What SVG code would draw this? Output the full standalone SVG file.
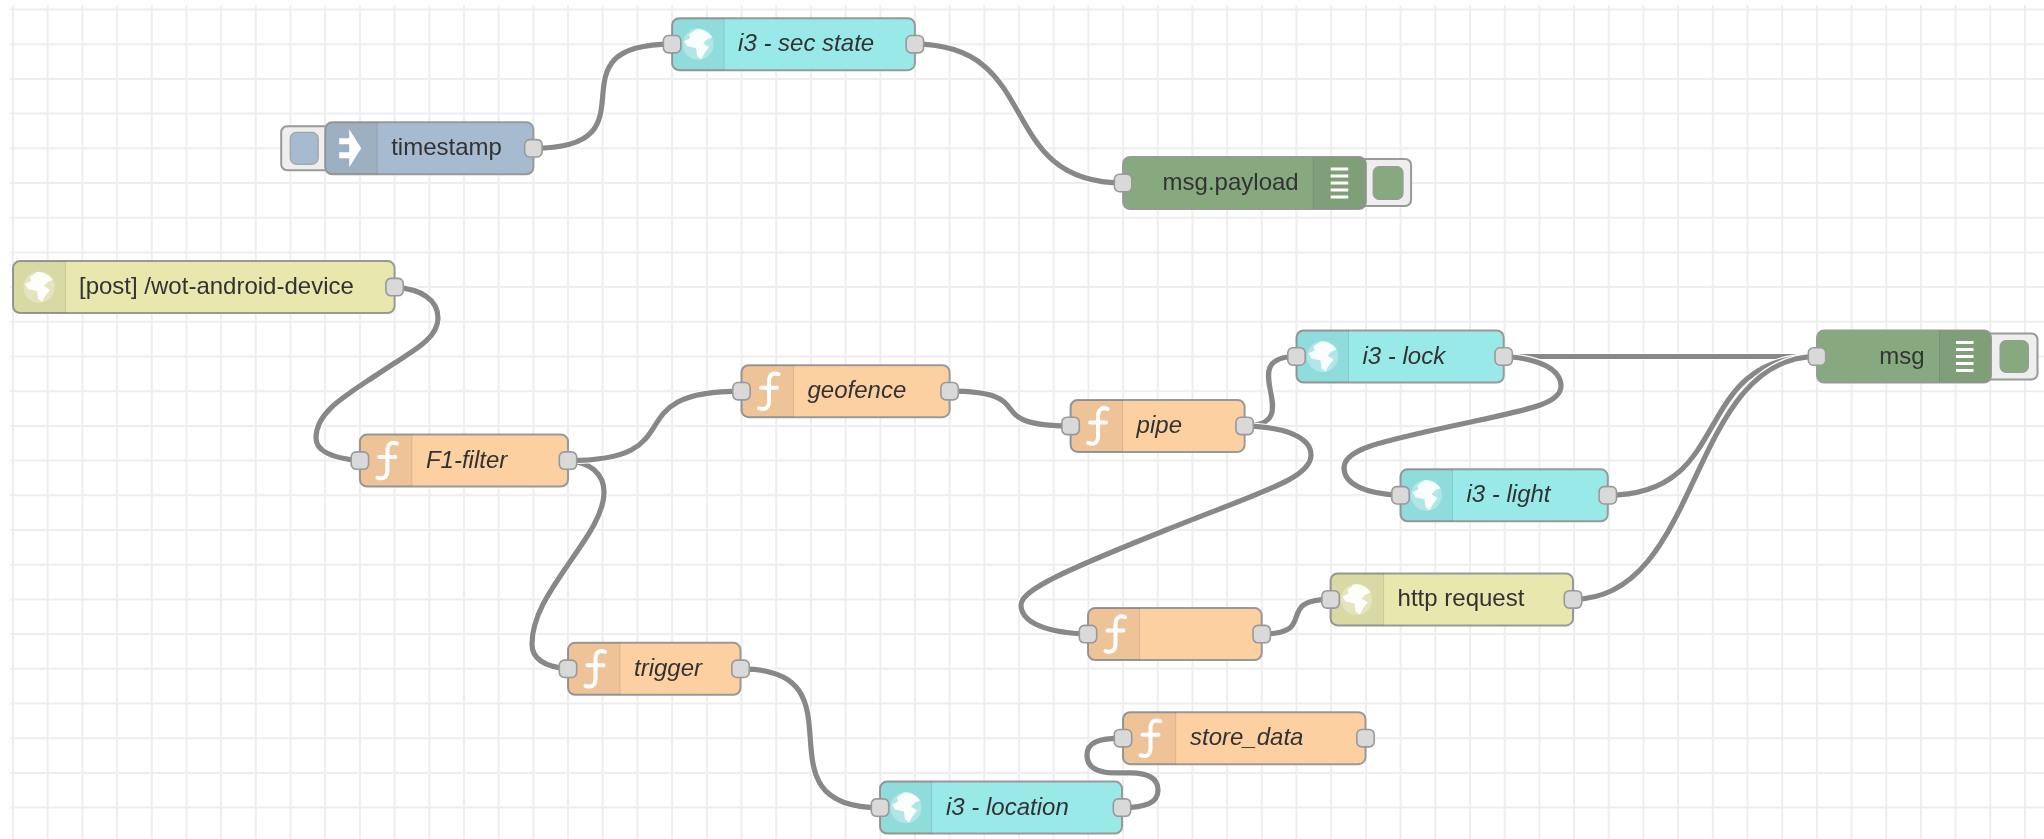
<svg xmlns="http://www.w3.org/2000/svg" width="2044" height="839" viewBox="0 0 2044 839">
<style>
text{font-family:"Liberation Sans",Arial,Helvetica,sans-serif;font-size:24px;fill:#333}
.i{font-style:italic}
.r{text-anchor:end}
.grid{fill:none;stroke:#eee;stroke-width:2}
.body{stroke:#999;stroke-width:2}
.fn{fill:#fdd0a2}.cy{fill:#9ae9e9}.ye{fill:#e7e7ae}.gr{fill:#87a980}.bl{fill:#a6bbcf}
.ico{fill:#000;fill-opacity:.06}
.div{stroke:#000;stroke-opacity:.1;stroke-width:1}
.port{fill:#d9d9d9;stroke:#999;stroke-width:1.6}
.btn{fill:#eee;stroke:#999;stroke-width:2}
.wo{fill:none;stroke:#fff;stroke-width:7.500}
.wl{fill:none;stroke:#888;stroke-width:5.200}
</style>
<defs>
<filter id="soft" filterUnits="userSpaceOnUse" x="0" y="0" width="2044" height="839"><feGaussianBlur stdDeviation="0.55"/></filter>
<rect id="p" class="port" x="-8.700" y="-8.700" width="17.400" height="17.400" rx="5"/>
<path id="fIcon" d="M37 -17C32 -19 28 -17 27.500 -11V11C27 17 23 19 17.500 17M19.500 -3.500H35.500" fill="none" stroke="#fff" stroke-width="4" stroke-linecap="round"/>
<g id="globe"><circle cx="26" cy="0" r="15.600" fill="#fff" fill-opacity=".3"/><path d="M24 -15C30 -16 37 -12 40 -7L35 -5L31 -1L37 3L33 8L29 15L25 12L24 4L15 2L12 -3L18 -6L17 -10Z" fill="#fff" fill-opacity=".92"/></g>
<path id="injIcon" d="M14 -10H24V-19L36 0L24 19V10H14V4H24V-4H14Z" fill="#fff"/>
<path id="dbgLines" d="M0 -14H17.500M0 -7H17.500M0 0H17.500M0 7H17.500M0 14H17.500" stroke="#fff" stroke-width="3" fill="none"/>
<path id="w1" d="M533.400 148.300C663.400 148.300 542 44.200 672 44.200"/>
<path id="w2" d="M915 44.200C1045 44.200 993 183 1123 183"/>
<path id="w3" d="M394.600 287.100C422 289 438 300 438 318C438 340 410 352 378 374C345 396 316 412 316 438C316 450 330 458 360 460.600"/>
<path id="w4" d="M568 460.600C590 462 604 474 604 492C604 515 585 540 568 564.700C551 589.400 532 616 532 644C532 660 546 667 568 668.800"/>
<path id="w5" d="M568 460.600C698 460.600 611.500 391.200 741.500 391.200"/>
<path id="w6" d="M949.600 391.200C1044 391.200 976 425.900 1070.600 425.900"/>
<path id="w7" d="M1244.600 425.900C1310 425.900 1231 356.500 1296.500 356.500"/>
<path id="w8" d="M1244.600 425.900C1285 427 1311 437 1311 455C1311 478 1266 490 1166 530C1066 570 1021 590 1021 605C1021 623 1048 633 1088 634.100"/>
<path id="w9" d="M1503.700 356.500H1817"/>
<path id="w10" d="M1503.700 356.500C1540 358 1561 370 1561 386C1561 405 1525 410 1452 426C1380 442 1344 449 1344 468C1344 484 1365 494 1400.400 495.300"/>
<path id="w11" d="M1607.800 495.300C1737.800 495.300 1687 356.500 1817 356.500"/>
<path id="w12" d="M1261.700 634.100C1320 634.100 1272.700 599.400 1330.600 599.400"/>
<path id="w13" d="M1573 599.400C1703 599.400 1687 356.500 1817 356.500"/>
<path id="w14" d="M740.500 668.800C870.500 668.800 750 807.600 880 807.600"/>
<path id="w15" d="M1122 807.600C1146 807.600 1158 803 1158 790C1158 778 1148 772.900 1130 772.900H1115C1097 772.900 1087 767 1087 755C1087 743 1097 738.200 1123 738.200"/>
</defs>
<rect width="2044" height="839" fill="#fff"/>
<g filter="url(#soft)">
<path class="grid" d="M13 5V839M47.700 5V839M82.400 5V839M117.100 5V839M151.800 5V839M186.500 5V839M221.100 5V839M255.800 5V839M290.500 5V839M325.200 5V839M359.900 5V839M394.600 5V839M429.300 5V839M464 5V839M498.700 5V839M533.400 5V839M568 5V839M602.700 5V839M637.400 5V839M672.100 5V839M706.800 5V839M741.500 5V839M776.200 5V839M810.900 5V839M845.600 5V839M880.300 5V839M914.900 5V839M949.600 5V839M984.300 5V839M1019 5V839M1053.700 5V839M1088.400 5V839M1123.100 5V839M1157.800 5V839M1192.500 5V839M1227.200 5V839M1261.800 5V839M1296.500 5V839M1331.200 5V839M1365.900 5V839M1400.600 5V839M1435.300 5V839M1470 5V839M1504.700 5V839M1539.400 5V839M1574.100 5V839M1608.700 5V839M1643.400 5V839M1678.100 5V839M1712.800 5V839M1747.500 5V839M1782.200 5V839M1816.900 5V839M1851.600 5V839M1886.300 5V839M1921 5V839M1955.600 5V839M1990.300 5V839M2025 5V839M10 9.500H2044M10 44.200H2044M10 78.900H2044M10 113.600H2044M10 148.300H2044M10 183H2044M10 217.700H2044M10 252.400H2044M10 287.100H2044M10 321.800H2044M10 356.500H2044M10 391.200H2044M10 425.900H2044M10 460.600H2044M10 495.300H2044M10 530H2044M10 564.700H2044M10 599.400H2044M10 634.100H2044M10 668.800H2044M10 703.500H2044M10 738.200H2044M10 772.900H2044M10 807.600H2044"/>
<g id="connectors">
<use href="#w1" class="wo"/><use href="#w1" class="wl"/>
<use href="#w2" class="wo"/><use href="#w2" class="wl"/>
<use href="#w3" class="wo"/><use href="#w3" class="wl"/>
<use href="#w4" class="wo"/><use href="#w4" class="wl"/>
<use href="#w5" class="wo"/><use href="#w5" class="wl"/>
<use href="#w6" class="wo"/><use href="#w6" class="wl"/>
<use href="#w7" class="wo"/><use href="#w7" class="wl"/>
<use href="#w8" class="wo"/><use href="#w8" class="wl"/>
<use href="#w9" class="wo"/><use href="#w9" class="wl"/>
<use href="#w10" class="wo"/><use href="#w10" class="wl"/>
<use href="#w11" class="wo"/><use href="#w11" class="wl"/>
<use href="#w12" class="wo"/><use href="#w12" class="wl"/>
<use href="#w13" class="wo"/><use href="#w13" class="wl"/>
<use href="#w14" class="wo"/><use href="#w14" class="wl"/>
<use href="#w15" class="wo"/><use href="#w15" class="wl"/>
</g>
<g id="timestamp" transform="translate(325.200 148.300)">
<path class="btn" d="M6 -22H-38a6 6 0 0 0 -6 6V16a6 6 0 0 0 6 6H6Z"/>
<rect class="bl" x="-35" y="-16" width="28" height="32" rx="6" stroke="#999" stroke-width="1"/>
<rect class="body bl" width="208.200" height="52" y="-26" rx="7"/>
<path class="ico" d="M7 -26A7 7 0 0 0 0 -19V19A7 7 0 0 0 7 26H52V-26Z"/>
<path class="div" d="M52 -26V26"/>
<use href="#injIcon"/>
<text x="66" y="7">timestamp</text>
<use href="#p" x="208.200"/>
</g>
<g id="sec-state" transform="translate(672.100 44.200)">
<rect class="body cy" width="242.800" height="52" y="-26" rx="7"/>
<path class="ico" d="M7 -26A7 7 0 0 0 0 -19V19A7 7 0 0 0 7 26H52V-26Z"/>
<path class="div" d="M52 -26V26"/>
<use href="#globe"/>
<text class="i" x="66" y="7">i3 - sec state</text>
<use href="#p"/><use href="#p" x="242.800"/>
</g>
<g id="msg-payload" transform="translate(1123.100 183)">
<path class="btn" d="M236 -24H282a6 6 0 0 1 6 6V17a6 6 0 0 1 -6 6H236Z"/>
<rect class="gr" x="250" y="-16.500" width="30" height="33" rx="6" stroke="#999" stroke-width="1"/>
<rect class="body gr" width="242.800" height="52" y="-26" rx="7"/>
<path class="ico" d="M190 -26H235.800A7 7 0 0 1 242.800 -19V19A7 7 0 0 1 235.800 26H190Z"/>
<path class="div" d="M190 -26V26"/>
<use href="#dbgLines" x="207.600"/>
<text class="r" x="175.600" y="7">msg.payload</text>
<use href="#p"/>
</g>
<g id="post-device" transform="translate(13 287.100)">
<rect class="body ye" width="381.600" height="52" y="-26" rx="7"/>
<path class="ico" d="M7 -26A7 7 0 0 0 0 -19V19A7 7 0 0 0 7 26H52.600V-26Z"/>
<path class="div" d="M52.600 -26V26"/>
<use href="#globe"/>
<text x="66" y="7">[post] /wot-android-device</text>
<use href="#p" x="381.600"/>
</g>
<g id="f1-filter" transform="translate(359.900 460.600)">
<rect class="body fn" width="208.100" height="52" y="-26" rx="7"/>
<path class="ico" d="M7 -26A7 7 0 0 0 0 -19V19A7 7 0 0 0 7 26H52V-26Z"/>
<path class="div" d="M52 -26V26"/>
<use href="#fIcon"/>
<text class="i" x="66" y="7">F1-filter</text>
<use href="#p"/><use href="#p" x="208.100"/>
</g>
<g id="geofence" transform="translate(741.500 391.200)">
<rect class="body fn" width="208.100" height="52" y="-26" rx="7"/>
<path class="ico" d="M7 -26A7 7 0 0 0 0 -19V19A7 7 0 0 0 7 26H52V-26Z"/>
<path class="div" d="M52 -26V26"/>
<use href="#fIcon"/>
<text class="i" x="66" y="7">geofence</text>
<use href="#p"/><use href="#p" x="208.100"/>
</g>
<g id="pipe" transform="translate(1070.600 425.900)">
<rect class="body fn" width="174" height="52" y="-26" rx="7"/>
<path class="ico" d="M7 -26A7 7 0 0 0 0 -19V19A7 7 0 0 0 7 26H52V-26Z"/>
<path class="div" d="M52 -26V26"/>
<use href="#fIcon"/>
<text class="i" x="66" y="7">pipe</text>
<use href="#p"/><use href="#p" x="174"/>
</g>
<g id="i3-lock" transform="translate(1296.500 356.500)">
<rect class="body cy" width="207.200" height="52" y="-26" rx="7"/>
<path class="ico" d="M7 -26A7 7 0 0 0 0 -19V19A7 7 0 0 0 7 26H52V-26Z"/>
<path class="div" d="M52 -26V26"/>
<use href="#globe"/>
<text class="i" x="66" y="7">i3 - lock</text>
<use href="#p"/><use href="#p" x="207.200"/>
</g>
<g id="i3-light" transform="translate(1400.500 495.300)">
<rect class="body cy" width="207.300" height="52" y="-26" rx="7"/>
<path class="ico" d="M7 -26A7 7 0 0 0 0 -19V19A7 7 0 0 0 7 26H52V-26Z"/>
<path class="div" d="M52 -26V26"/>
<use href="#globe"/>
<text class="i" x="66" y="7">i3 - light</text>
<use href="#p"/><use href="#p" x="207.300"/>
</g>
<g id="msg" transform="translate(1817 356.500)">
<path class="btn" d="M168 -23H214.500a6 6 0 0 1 6 6V17a6 6 0 0 1 -6 6H168Z"/>
<rect class="gr" x="183" y="-16" width="28.500" height="32" rx="6" stroke="#999" stroke-width="1"/>
<rect class="body gr" width="174" height="52" y="-26" rx="7"/>
<path class="ico" d="M122.500 -26H167A7 7 0 0 1 174 -19V19A7 7 0 0 1 167 26H122.500Z"/>
<path class="div" d="M122.500 -26V26"/>
<use href="#dbgLines" x="139"/>
<text class="r" x="107.500" y="7">msg</text>
<use href="#p"/>
</g>
<g id="func-blank" transform="translate(1088 634.100)">
<rect class="body fn" width="173.700" height="52" y="-26" rx="7"/>
<path class="ico" d="M7 -26A7 7 0 0 0 0 -19V19A7 7 0 0 0 7 26H51.500V-26Z"/>
<path class="div" d="M51.500 -26V26"/>
<use href="#fIcon"/>
<use href="#p"/><use href="#p" x="173.700"/>
</g>
<g id="http-request" transform="translate(1330.600 599.400)">
<rect class="body ye" width="242.400" height="52" y="-26" rx="7"/>
<path class="ico" d="M7 -26A7 7 0 0 0 0 -19V19A7 7 0 0 0 7 26H53V-26Z"/>
<path class="div" d="M53 -26V26"/>
<use href="#globe"/>
<text x="67" y="7">http request</text>
<use href="#p"/><use href="#p" x="242.400"/>
</g>
<g id="trigger" transform="translate(568 668.800)">
<rect class="body fn" width="172.500" height="52" y="-26" rx="7"/>
<path class="ico" d="M7 -26A7 7 0 0 0 0 -19V19A7 7 0 0 0 7 26H52V-26Z"/>
<path class="div" d="M52 -26V26"/>
<use href="#fIcon"/>
<text class="i" x="66" y="7">trigger</text>
<use href="#p"/><use href="#p" x="172.500"/>
</g>
<g id="store-data" transform="translate(1123 738.200)">
<rect class="body fn" width="242.500" height="52" y="-26" rx="7"/>
<path class="ico" d="M7 -26A7 7 0 0 0 0 -19V19A7 7 0 0 0 7 26H52.700V-26Z"/>
<path class="div" d="M52.700 -26V26"/>
<use href="#fIcon"/>
<text class="i" x="67" y="7">store_data</text>
<use href="#p"/><use href="#p" x="242.500"/>
</g>
<g id="i3-location" transform="translate(880 807.600)">
<rect class="body cy" width="242" height="52" y="-26" rx="7"/>
<path class="ico" d="M7 -26A7 7 0 0 0 0 -19V19A7 7 0 0 0 7 26H51.700V-26Z"/>
<path class="div" d="M51.700 -26V26"/>
<use href="#globe"/>
<text class="i" x="66" y="7">i3 - location</text>
<use href="#p"/><use href="#p" x="242"/>
</g>
</g>
</svg>
